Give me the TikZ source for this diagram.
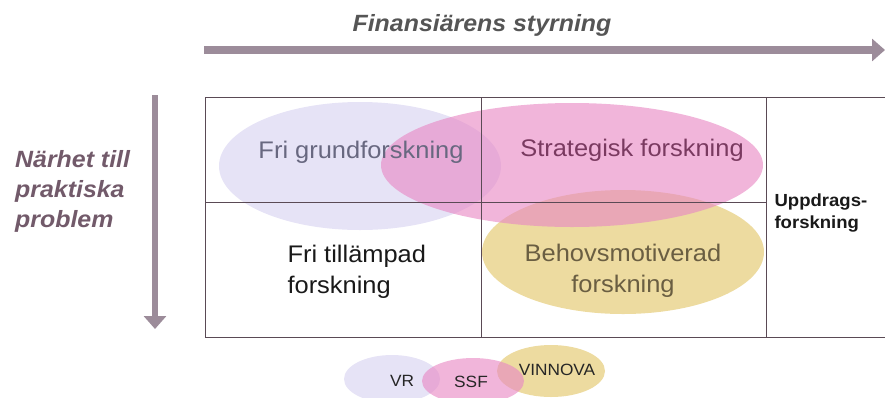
\documentclass[tikz,border=0pt]{standalone}
\usepackage{fontspec}
\setmainfont{Liberation Sans}
\newfontfamily\wide[FakeStretch=1.06]{Liberation Sans}
\usetikzlibrary{arrows.meta,shapes.geometric}
\definecolor{lav}{HTML}{E6E3F6}
\definecolor{pinkc}{HTML}{E888C4}
\definecolor{yel}{HTML}{EDDBA0}
\definecolor{arrowc}{HTML}{9C8C9A}
\definecolor{gridc}{HTML}{5A4A55}
\definecolor{titlec}{HTML}{555555}
\definecolor{sidec}{HTML}{725A6A}
\definecolor{lavtext}{HTML}{686880}
\definecolor{pinktext}{HTML}{7A3A60}
\definecolor{yeltext}{HTML}{6A5E42}
\begin{document}
\begin{tikzpicture}[x=1pt,y=-1pt,
  blob/.style={ellipse,draw=none,inner sep=0pt},
  gridline/.style={draw=gridc,line width=0.8pt},
  bigarrow/.style={draw=arrowc,-{Triangle[length=13pt,width=22pt]}},
  celltext/.style={font=\wide\fontsize{24}{31.5}\selectfont,align=center},
  legtext/.style={font=\wide\fontsize{16.3}{18}\selectfont,text=black!85}]
\useasboundingbox (0,0) rectangle (885,397);
% arrows
\coordinate (ta) at (204,50);
\coordinate (tb) at (885,50);
\draw[bigarrow,line width=8pt] (ta) -- (tb);
\coordinate (la) at (155,95);
\coordinate (lb) at (155,329);
\draw[bigarrow,line width=6pt] (la) -- (lb);
\node[font=\wide\fontsize{23.5}{27}\selectfont\bfseries\itshape,text=titlec] (title) at (482,25) {Finansiärens styrning};
\node[font=\wide\fontsize{23.5}{30}\selectfont\bfseries\itshape,text=sidec,align=left,anchor=west,inner sep=0pt] (side) at (15,191) {Närhet till\\praktiska\\problem};
% ellipses
\node[blob,fill=lav,minimum width=282pt,minimum height=128pt] (eFri) at (360,166) {};
\node[blob,fill=yel,minimum width=282pt,minimum height=124pt] (eBeh) at (623,252) {};
\node[blob,fill=pinkc,fill opacity=0.62,minimum width=382pt,minimum height=124pt] (eStr) at (572,165) {};
% grid
\draw[gridline] (205,97) -- (885,97);
\draw[gridline] (205,337) -- (885,337);
\draw[gridline] (205,97) -- (205,337);
\draw[gridline] (481,97) -- (481,337);
\draw[gridline] (766,97) -- (766,337);
\draw[gridline] (205,202) -- (766,202);
% texts
\node[celltext,text=lavtext] (tFri) at (361,152) {Fri grundforskning};
\node[celltext,text=pinktext] (tStr) at (632,150) {Strategisk forskning};
\node[celltext,text=yeltext] (tBeh) at (623,271) {Behovsmotiverad\\forskning};
\node[celltext,align=left,anchor=west,text=black!90] (tTil) at (284,272) {Fri tillämpad\\forskning};
\node[font=\wide\fontsize{17.5}{22}\selectfont\bfseries,align=left,anchor=west,text=black!90] (tUpp) at (771,213) {Uppdrags-\\forskning};
% legend
\node[blob,fill=lav,minimum width=96pt,minimum height=48pt] (lVR) at (392,379) {};
\node[blob,fill=yel,minimum width=108pt,minimum height=52pt] (lVIN) at (551,371) {};
\node[blob,fill=pinkc,fill opacity=0.62,minimum width=102pt,minimum height=46pt] (lSSF) at (473,381) {};
\node[legtext] (tVR) at (402,381) {VR};
\node[legtext] (tSSF) at (471,382) {SSF};
\node[legtext] (tVIN) at (557,370) {VINNOVA};
\end{tikzpicture}
\end{document}
